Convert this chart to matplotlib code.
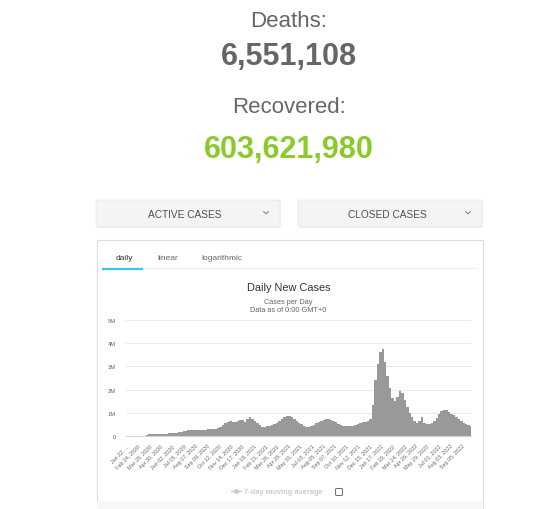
import numpy as np
import pandas as pd
import matplotlib
matplotlib.use("Agg")
import matplotlib.pyplot as plt
from matplotlib.patches import FancyBboxPatch, Rectangle

W, H = 559, 510
FONT = "Liberation Sans"

deaths_label = "Deaths:"
deaths_value = "6,551,108"
recovered_label = "Recovered:"
recovered_value = "603,621,980"
dropdowns = ["ACTIVE CASES", "CLOSED CASES"]
tabs = ["daily", "linear", "logarithmic"]
chart_title = "Daily New Cases"
chart_subtitle = ["Cases per Day", "Data as of 0:00 GMT+0"]
legend_label = "7-day moving average"

# new cases per day, thousands, one value per week starting Jan 22 2020
start_date = "2020-01-22"
weekly_cases = [
    1, 3, 3, 6, 1, 2, 4, 12, 40, 65, 80, 85, 85, 88, 90, 92, 98, 108, 120, 130,
    145, 165, 185, 205, 225, 245, 265, 275, 280, 275, 270, 275, 280, 295, 305, 310,
    320, 350, 400, 460, 540, 600, 630, 620, 610, 650, 690, 710, 620, 720,
    800, 730, 630, 540, 470, 400, 380, 410, 430, 460, 520, 580, 650, 740, 830, 880,
    870, 830, 740, 660, 580, 500, 430, 390, 390, 420, 480, 540, 610, 660, 700, 730,
    720, 690, 650, 590, 530, 490, 450, 430, 420, 440, 450, 470, 510, 560, 590, 620,
    650, 740, 1350, 2400,
    3100, 3600, 3750, 3200, 2600, 2050, 1650, 1500, 1700, 1950, 1850, 1550, 1250,
    980, 820, 660, 560, 660, 820, 570, 520, 500, 540, 650, 790, 930, 1060, 1140,
    1100, 1030, 950, 890, 810, 730, 630, 550, 510, 480, 410,
]
end_date = "2022-10-01"

tick_dates = [
    "2020-01-22", "2020-02-24", "2020-03-28", "2020-04-30", "2020-06-02", "2020-07-05",
    "2020-08-07", "2020-09-09", "2020-10-12", "2020-11-14", "2020-12-17", "2021-01-19",
    "2021-02-21", "2021-03-26", "2021-04-28", "2021-05-31", "2021-07-03", "2021-08-05",
    "2021-09-07", "2021-10-10", "2021-11-12", "2021-12-15", "2022-01-17", "2022-02-19",
    "2022-03-24", "2022-04-26", "2022-05-29", "2022-07-01", "2022-08-03", "2022-09-05",
]
tick_labels = [
    "Jan 22, ...", "Feb 24, 2020", "Mar 28, 2020", "Apr 30, 2020", "Jun 02, 2020",
    "Jul 05, 2020", "Aug 07, 2020", "Sep 09, 2020", "Oct 12, 2020", "Nov 14, 2020",
    "Dec 17, 2020", "Jan 19, 2021", "Feb 21, 2021", "Mar 26, 2021", "Apr 28, 2021",
    "May 31, 2021", "Jul 03, 2021", "Aug 05, 2021", "Sep 07, 2021", "Oct 10, 2021",
    "Nov 12, 2021", "Dec 15, 2021", "Jan 17, 2022", "Feb 19, 2022", "Mar 24, 2022",
    "Apr 26, 2022", "May 29, 2022", "Jul 01, 2022", "Aug 03, 2022", "Sep 05, 2022",
]
y_ticks = [0, 1e6, 2e6, 3e6, 4e6, 5e6]
y_labels = ["0", "1M", "2M", "3M", "4M", "5M"]

fig = plt.figure(figsize=(W / 100, H / 100), dpi=100)

# page layer drawn in pixel coordinates (y down)
bg = fig.add_axes([0, 0, 1, 1])
bg.set_xlim(0, W)
bg.set_ylim(H, 0)
bg.axis("off")

cx = 288.5
bg.text(cx, 26.7, deaths_label, ha="center", va="baseline", fontsize=16, color="#666666", family=FONT)
bg.text(cx, 65, deaths_value, ha="center", va="baseline", fontsize=22, color="#666666",
        family=FONT, fontweight="bold")
bg.text(cx, 113.3, recovered_label, ha="center", va="baseline", fontsize=16, color="#666666", family=FONT)
bg.text(cx, 158.3, recovered_value, ha="center", va="baseline", fontsize=22, color="#8aca2b",
        family=FONT, fontweight="bold")

# dropdown buttons
for (x0, x1), label in zip([(96, 280), (298, 482)], dropdowns):
    bg.add_patch(FancyBboxPatch((x0 + 0.5, 201.5), x1 - x0, 27, boxstyle="round,pad=0,rounding_size=2",
                                facecolor="#e3e3e3", edgecolor="none"))
    bg.add_patch(FancyBboxPatch((x0, 201), x1 - x0, 27, boxstyle="round,pad=0,rounding_size=2",
                                facecolor="#f4f4f4", edgecolor="#e6e6e6", linewidth=0.5))
    bg.text((x0 + x1) / 2 - 3, 217.8, label, ha="center", va="baseline", fontsize=7.3,
            color="#505050", family=FONT)
    vx = x1 - 14
    bg.plot([vx - 2.3, vx, vx + 2.3], [212.6, 214.8, 212.6], color="#777777", lw=0.7)

# chart panel
bg.add_patch(Rectangle((96.5, 240.5), 386, 280, facecolor="white", edgecolor="#dcdcdc", linewidth=0.8))
bg.add_patch(Rectangle((97, 502), 385, 9, facecolor="#f7f7f7", edgecolor="none"))
bg.plot([102, 476], [268.8, 268.8], color="#eeeeee", lw=0.6)
bg.plot([102, 143], [269.6, 269.6], color="#3fc2f2", lw=1.6, solid_capstyle="butt")
for x, label in zip([124, 168, 221.5], tabs):
    bg.text(x, 260.3, label, ha="center", va="baseline", fontsize=6.0,
            color="#333333" if label == "daily" else "#666666", family=FONT)

bg.text(cx, 291, chart_title, ha="center", va="baseline", fontsize=7.9, color="#333333", family=FONT)
bg.text(cx, 304, chart_subtitle[0], ha="center", va="baseline", fontsize=5.3, color="#666666", family=FONT)
bg.text(cx, 311.7, chart_subtitle[1], ha="center", va="baseline", fontsize=5.3, color="#666666", family=FONT)

# legend (hidden series) and checkbox
bg.plot([231, 240.5], [492.3, 492.3], color="#cccccc", lw=1.0)
bg.plot([235.7], [492.3], marker="o", ms=2.6, color="#cccccc")
bg.text(243.7, 494.4, legend_label, ha="left", va="baseline", fontsize=5.4, color="#cccccc",
        family=FONT, fontweight="bold")
bg.add_patch(FancyBboxPatch((335.6, 489.4), 7, 7, boxstyle="round,pad=0,rounding_size=1",
                            facecolor="white", edgecolor="#555555", linewidth=0.6))

# the chart itself
ax = fig.add_axes([126 / W, (H - 437) / H, 345 / W, 116 / H])
ax.patch.set_alpha(0)
dates = pd.date_range(start_date, periods=len(weekly_cases), freq="7D")
ax.bar(dates, np.array(weekly_cases) * 1000, width=7, align="edge", color="#999999", linewidth=0)
ax.set_xlim(pd.Timestamp(start_date), pd.Timestamp(end_date))
ax.set_ylim(0, 5e6)
ax.set_yticks(y_ticks)
ax.set_yticklabels(y_labels, fontsize=4.2, color="#666666", family=FONT)
ax.set_xticks(pd.to_datetime(tick_dates))
ax.set_xticklabels(tick_labels, rotation=45, ha="right", rotation_mode="anchor",
                   fontsize=3.9, color="#666666", family=FONT)
ax.tick_params(axis="both", length=0)
ax.tick_params(axis="y", pad=7)
ax.tick_params(axis="x", pad=5)
ax.grid(axis="y", color="#e6e6e6", lw=0.6)
ax.set_axisbelow(True)
for s in ["top", "right", "left"]:
    ax.spines[s].set_visible(False)
ax.spines["bottom"].set_color("#ccd6eb")
ax.spines["bottom"].set_linewidth(0.8)

fig.savefig("out.png", dpi=100)
